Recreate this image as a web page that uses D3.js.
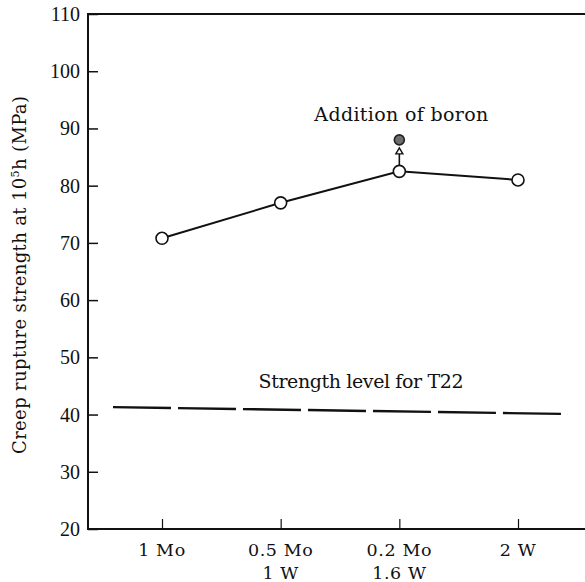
<!DOCTYPE html>
<html>
<head>
<meta charset="utf-8">
<script src="https://cdn.jsdelivr.net/npm/d3@7"></script>
<style>
  body { margin: 0; background: #fff; }
  svg text { font-family: "DejaVu Serif", "Liberation Serif", serif; fill: #111; }
</style>
</head>
<body>
<div id="chart"></div>
<script>
(function() {
  'use strict';

  // Data.
  var categories = [['1 Mo'], ['0.5 Mo', '1 W'], ['0.2 Mo', '1.6 W'], ['2 W']];
  var strength = [70.8, 77, 82.5, 81];
  var boronValue = 88;          // at the third category
  var t22Level = [41.3, 40.1];  // dashed line, start and end
  var yTicks = [20, 30, 40, 50, 60, 70, 80, 90, 100, 110];

  var width = 585, height = 582;
  var margin = {top: 14, right: 0, bottom: 53, left: 88};
  var chartW = width - margin.left - margin.right,
      chartH = height - margin.top - margin.bottom;

  var keys = categories.map(function(c) { return c.join(' '); });

  var xScale = d3.scalePoint().domain(keys).range([74, 430]);
  var yScale = d3.scaleLinear().domain([20, 110]).range([chartH, 0]);

  var svg = d3.select('#chart').append('svg')
      .attr('width', width).attr('height', height);
  var inner = svg.append('g')
      .attr('transform', translation(margin.left, margin.top));

  // Left axis with inward ticks.
  var yAxis = d3.axisRight(yScale).tickValues(yTicks).tickSize(10).tickFormat('');
  inner.append('g').call(yAxis)
      .call(function(g) {
        g.select('.domain').remove();
        g.selectAll('line').attr('stroke', '#111').attr('stroke-width', 1.5);
      });
  inner.selectAll('.ylab').data(yTicks).enter().append('text')
      .attr('class', 'ylab')
      .attr('x', -8).attr('y', function(d) { return yScale(d) + 7; })
      .attr('text-anchor', 'end')
      .style('font-size', '20px').style('font-family', '"Liberation Serif", serif')
      .text(function(d) { return d; });

  // Bottom axis with inward ticks.
  var xAxis = d3.axisTop(xScale).tickSize(10).tickFormat('');
  inner.append('g').attr('transform', translation(0, chartH)).call(xAxis)
      .call(function(g) {
        g.select('.domain').remove();
        g.selectAll('line').attr('stroke', '#111').attr('stroke-width', 1.2);
      });

  // Frame: left, top and bottom lines.
  inner.append('path')
      .attr('d', 'M' + chartW + ',0H0V' + chartH + 'H' + chartW)
      .attr('fill', 'none').attr('stroke', '#111').attr('stroke-width', 2);

  // Category labels (two lines where needed).
  var xl = inner.selectAll('.xlab').data(categories).enter().append('text')
      .attr('class', 'xlab')
      .attr('text-anchor', 'middle').style('font-size', '17.5px')
      .style('letter-spacing', '0.6px')
      .attr('transform', function(d, i) { return translation(xScale(keys[i]), chartH + 27); });
  xl.selectAll('tspan').data(function(d) { return d; }).enter().append('tspan')
      .attr('x', 0).attr('dy', function(d, i) { return i ? 23 : 0; })
      .text(function(d) { return d; });

  // Y axis title.
  var yt = svg.append('text')
      .attr('transform', 'translate(26,' + 275 + ') rotate(-90)')
      .attr('text-anchor', 'middle').style('font-size', '18px')
      .attr('textLength', 358).attr('lengthAdjust', 'spacing');
  yt.append('tspan').text('Creep rupture strength at 10');
  yt.append('tspan').attr('dy', -7).style('font-size', '11px').text('5');
  yt.append('tspan').attr('dy', 7).text('h (MPa)');

  // T22 dashed level.
  var x0 = 25, x1 = 480;
  inner.append('line')
      .attr('x1', x0).attr('x2', x1)
      .attr('y1', yScale(t22Level[0])).attr('y2', yScale(t22Level[1]))
      .attr('stroke', '#111').attr('stroke-width', 2.4)
      .attr('stroke-dasharray', '58,7');
  inner.append('text')
      .attr('x', 273).attr('y', yScale(44.6))
      .attr('text-anchor', 'middle').style('font-size', '19px')
      .attr('textLength', 205).attr('lengthAdjust', 'spacing')
      .text('Strength level for T22');

  // Main line.
  var line = d3.line()
      .x(function(d, i) { return xScale(keys[i]); })
      .y(function(d) { return yScale(d); });
  inner.append('path').datum(strength)
      .attr('d', line).attr('fill', 'none')
      .attr('stroke', '#111').attr('stroke-width', 2);

  // Arrow to boron point.
  var bx = xScale(keys[2]);
  var ay0 = yScale(strength[2]) - 6, ay1 = yScale(boronValue) + 8;
  inner.append('line')
      .attr('x1', bx).attr('x2', bx).attr('y1', ay0).attr('y2', ay1 + 4)
      .attr('stroke', '#111').attr('stroke-width', 1.6);
  inner.append('path')
      .attr('d', 'M' + (bx - 3.5) + ',' + (ay1 + 6) + 'L' + bx + ',' + ay1 + 'L' + (bx + 3.5) + ',' + (ay1 + 6) + 'Z')
      .attr('fill', '#fff').attr('stroke', '#111').attr('stroke-width', 1.4);

  inner.selectAll('.pt').data(strength).enter().append('circle')
      .attr('class', 'pt')
      .attr('cx', function(d, i) { return xScale(keys[i]); })
      .attr('cy', function(d) { return yScale(d); })
      .attr('r', 6).attr('fill', '#fff')
      .attr('stroke', '#111').attr('stroke-width', 1.6);

  inner.append('circle')
      .attr('cx', bx).attr('cy', yScale(boronValue)).attr('r', 5)
      .attr('fill', '#6e6e6e').attr('stroke', '#222').attr('stroke-width', 1.6);

  inner.append('text')
      .attr('x', bx + 2).attr('y', yScale(boronValue) - 19)
      .attr('text-anchor', 'middle').style('font-size', '19px')
      .attr('textLength', 174).attr('lengthAdjust', 'spacing')
      .text('Addition of boron');

  function translation(x, y) {
    return 'translate(' + x + ',' + y + ')';
  }
}());
</script>
</body>
</html>
